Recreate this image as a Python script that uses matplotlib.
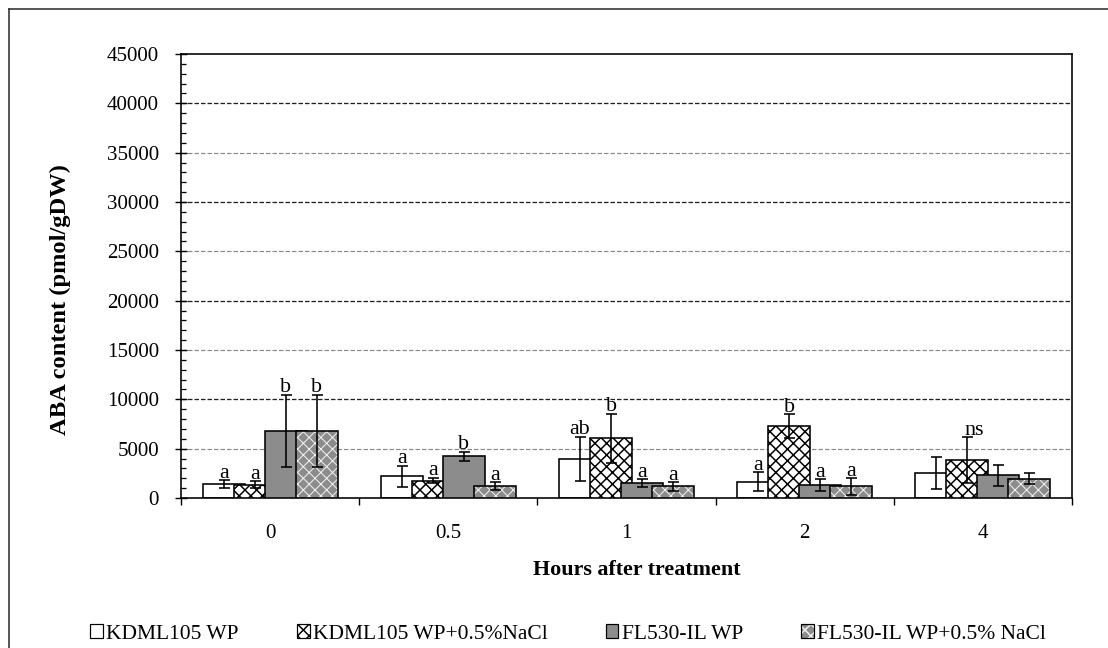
import matplotlib
matplotlib.use("Agg")
import matplotlib.pyplot as plt
import numpy as np
from matplotlib.patches import Patch
from matplotlib.lines import Line2D
from matplotlib.ticker import MultipleLocator, FixedLocator, NullFormatter

# ---------------- data ----------------
hours = ["0", "0.5", "1", "2", "4"]
series_names = ["KDML105 WP", "KDML105 WP+0.5%NaCl", "FL530-IL WP", "FL530-IL WP+0.5% NaCl"]

kdml_wp = [1400, 2200, 3970, 1650, 2540]
kdml_wp_err = [380, 1050, 2240, 960, 1660]
kdml_nacl = [1350, 1750, 6060, 7260, 3840]
kdml_nacl_err = [350, 280, 2480, 1215, 2300]
fl_wp = [6820, 4230, 1510, 1300, 2300]
fl_wp_err = [3650, 450, 380, 620, 1050]
fl_nacl = [6820, 1220, 1170, 1170, 1950]
fl_nacl_err = [3650, 400, 430, 820, 580]

sig_kdml_wp = ["a", "a", "ab", "a", ""]
sig_kdml_nacl = ["a", "a", "b", "b", "ns"]
sig_fl_wp = ["b", "b", "a", "a", ""]
sig_fl_nacl = ["b", "a", "a", "a", ""]

y_max = 45000
y_major = 5000
y_minor = 1000

# ---------------- style ----------------
DPI = 140
W, H = 1108, 648


def pt(px):
    return px * 72.0 / DPI


plt.rcParams['font.family'] = ['Liberation Serif', 'DejaVu Serif']
plt.rcParams['hatch.linewidth'] = pt(1.5)

GRAY = '#8c8c8c'
HATCH = 'xxxx'
fig = plt.figure(figsize=(W / DPI, H / DPI), dpi=DPI)
fig.patch.set_facecolor('white')

L, R, T, B = 181, 1072, 54, 498
ax = fig.add_axes([L / W, 1 - B / H, (R - L) / W, (B - T) / H])

x = np.arange(len(hours))
step = 31 / 178.2
width = 42 / 178.2
offsets = (np.arange(4) - 1.5) * step

values = [kdml_wp, kdml_nacl, fl_wp, fl_nacl]
errors = [kdml_wp_err, kdml_nacl_err, fl_wp_err, fl_nacl_err]
sigs = [sig_kdml_wp, sig_kdml_nacl, sig_fl_wp, sig_fl_nacl]

edge_lw = pt(1.6)


def thin_hatch(patches, lw):
    for p in patches:
        if hasattr(p, 'set_hatch_linewidth'):
            p.set_hatch_linewidth(lw)


for i in range(4):
    xs = x + offsets[i]
    z = 2 + i
    if i == 0:
        ax.bar(xs, values[i], width, color='white', edgecolor='black', linewidth=edge_lw, zorder=z)
    elif i == 1:
        ax.bar(xs, values[i], width, color='white', edgecolor='black', hatch=HATCH,
               linewidth=edge_lw, zorder=z)
    elif i == 2:
        ax.bar(xs, values[i], width, color=GRAY, edgecolor='black', linewidth=edge_lw, zorder=z)
    else:
        with plt.rc_context({'hatch.linewidth': pt(1.0)}):
            bc = ax.bar(xs, values[i], width, color=GRAY, edgecolor='#f2f2f2', hatch=HATCH,
                        linewidth=0, zorder=z)
            thin_hatch(bc, pt(1.0))
        ax.bar(xs, values[i], width, fill=False, edgecolor='black', linewidth=edge_lw, zorder=z)

for i in range(4):
    xs = x + offsets[i]
    ax.errorbar(xs, values[i], yerr=errors[i], fmt='none', ecolor='black',
                elinewidth=pt(1.6), capsize=pt(5.5), capthick=pt(1.6), zorder=10)
    for j in range(len(hours)):
        s = sigs[i][j]
        if not s:
            continue
        dx = pt(7) if s == 'ns' else 0
        ax.annotate(s, (xs[j], values[i][j] + errors[i][j]), xytext=(dx, pt(2.5)),
                    textcoords='offset points', ha='center', va='baseline',
                    fontsize=pt(22), zorder=11)

# gridlines
for yv in range(y_major, y_max, y_major):
    if yv % 10000 == 0:
        ax.axhline(yv, color='#202020', linewidth=pt(1.3), linestyle=(0, (pt(4.5) / pt(1.3), pt(2) / pt(1.3))), zorder=1)
    else:
        ax.axhline(yv, color='#8a8a8a', linewidth=pt(1.2), linestyle=(0, (pt(4.5) / pt(1.2), pt(2) / pt(1.2))), zorder=1)

ax.set_xlim(-0.5, len(hours) - 0.5)
ax.set_ylim(0, y_max)

ax.yaxis.set_major_locator(MultipleLocator(y_major))
ax.yaxis.set_minor_locator(MultipleLocator(y_minor))
ax.tick_params(axis='y', which='major', direction='inout', length=pt(12), width=pt(1.4),
               labelsize=pt(21), pad=pt(16))
ax.tick_params(axis='y', which='minor', direction='in', length=pt(5), width=pt(1.3))

ax.set_xticks(x)
ax.set_xticklabels(hours)
ax.xaxis.set_minor_locator(FixedLocator(np.arange(-0.5, len(hours), 1.0)))
ax.xaxis.set_minor_formatter(NullFormatter())
ax.tick_params(axis='x', which='major', length=0, labelsize=pt(21), pad=pt(26))
ax.tick_params(axis='x', which='minor', direction='out', length=pt(7), width=pt(1.4))

for sp in ax.spines.values():
    sp.set_linewidth(pt(1.6))
    sp.set_color('black')

ax.set_xlabel('Hours after treatment', fontsize=pt(22), fontweight='bold')
ax.xaxis.set_label_coords((637 - L) / (R - L), (B - 570) / (B - T))
ax.xaxis.label.set_va('center')
ax.set_ylabel('ABA content (pmol/gDW)', fontsize=pt(24.5), fontweight='bold')
ax.yaxis.set_label_coords((60 - L) / (R - L), (B - 300) / (B - T))
ax.yaxis.label.set_va('center')

# legend
h1 = Patch(facecolor='white', edgecolor='black', linewidth=pt(1.2))
h2 = Patch(facecolor='white', edgecolor='black', hatch=HATCH, linewidth=pt(1.2))
h3 = Patch(facecolor=GRAY, edgecolor='black', linewidth=pt(1.2))
with plt.rc_context({'hatch.linewidth': pt(1.0)}):
    h4a = Patch(facecolor=GRAY, edgecolor='#f2f2f2', hatch=HATCH, linewidth=0)
    thin_hatch([h4a], pt(1.0))
h4b = Patch(fill=False, edgecolor='black', linewidth=pt(1.2))
fig.legend([h1, h2, h3, (h4a, h4b)], series_names, ncol=4, loc='center',
           bbox_to_anchor=(568 / W, 1 - 634 / H), frameon=False, fontsize=pt(21.5),
           handlelength=0.6, handleheight=0.6, handletextpad=0.15, columnspacing=2.7,
           borderpad=0, borderaxespad=0)

# outer border (left and top)
fig.add_artist(Line2D([8.5 / W, 8.5 / W], [0, 1 - 9 / H], color='#222222', linewidth=pt(1.5),
                      transform=fig.transFigure))
fig.add_artist(Line2D([8.5 / W, 1], [1 - 9 / H, 1 - 9 / H], color='#222222', linewidth=pt(1.5),
                      transform=fig.transFigure))

fig.savefig('out.png', dpi=DPI, facecolor='white')
